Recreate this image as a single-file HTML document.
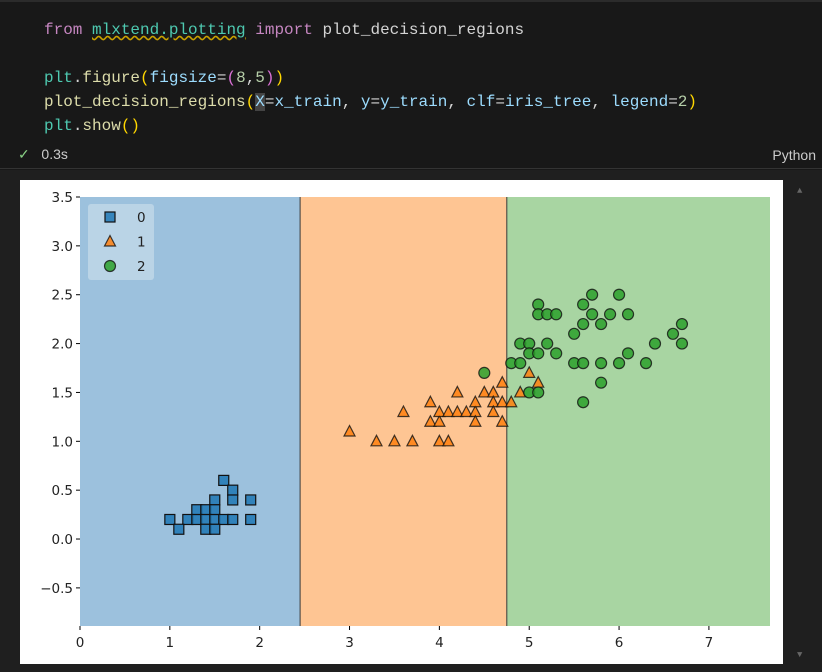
<!DOCTYPE html>
<html><head><meta charset="utf-8"><style>
body{margin:0;width:822px;height:672px;background:#1f1f1f;overflow:hidden;font-family:"Liberation Mono",monospace;}
.code{position:absolute;left:44px;font-size:16px;color:#d4d4d4;white-space:pre;line-height:24px}
.kw{color:#c586c0}.fn{color:#dcdcaa}.v{color:#9cdcfe}.n{color:#b5cea8}.p1{color:#ffd700}.p2{color:#da70d6}.t{color:#4ec9b0}
</style></head><body>
<div style="position:absolute;left:0;top:0;width:822px;height:168px;background:#181818;border-top:2px solid #2b2b2b">
<div class="code" style="top:16px"><span class="kw">from</span> <span class="t" style="text-decoration:underline wavy #c8a000">mlxtend.plotting</span> <span class="kw">import</span> plot_decision_regions</div>
<div class="code" style="top:64px"><span class="t">plt</span>.<span class="fn">figure</span><span class="p1">(</span><span class="v">figsize</span>=<span class="p2">(</span><span class="n">8</span>,<span class="n">5</span><span class="p2">)</span><span class="p1">)</span></div>
<div class="code" style="top:88px"><span class="fn">plot_decision_regions</span><span class="p1">(</span><span class="v" style="background:#444">X</span>=<span class="v">x_train</span>, <span class="v">y</span>=<span class="v">y_train</span>, <span class="v">clf</span>=<span class="v">iris_tree</span>, <span class="v">legend</span>=<span class="n">2</span><span class="p1">)</span></div>
<div class="code" style="top:112px"><span class="t">plt</span>.<span class="fn">show</span><span class="p1">()</span></div>
<div style="position:absolute;left:18px;top:144px;font-family:'Liberation Sans',sans-serif;font-size:14px;color:#ccc"><span style="color:#89d185">✓</span>&nbsp;&nbsp;&nbsp;0.3s</div>
<div style="position:absolute;right:6px;top:145px;font-family:'Liberation Sans',sans-serif;font-size:14px;color:#ccc">Python</div>
</div>
<div style="position:absolute;left:0;top:168px;width:822px;height:1px;background:#333"></div>
<div style="position:absolute;left:797px;top:186px;color:#666;font-size:9px">▲</div>
<div style="position:absolute;left:797px;top:650px;color:#666;font-size:9px">▼</div>
<svg id="chart" style="position:absolute;left:20px;top:180px" width="763" height="484" font-family="'DejaVu Sans',sans-serif" font-size="13.5"></svg>
<script>
const xTicks=[0,1,2,3,4,5,6,7];
const yTicks=[-0.5,0.0,0.5,1.0,1.5,2.0,2.5,3.0,3.5];
const yTickLabels=["−0.5","0.0","0.5","1.0","1.5","2.0","2.5","3.0","3.5"];
const boundaries=[2.45,4.75];
const class0X=[1.6,1.7,1.7,1.9,1.5,1.3,1.4,1.5,1.0,1.2,1.3,1.4,1.5,1.6,1.7,1.9,1.1,1.4,1.5];
const class0Y=[0.6,0.5,0.4,0.4,0.4,0.3,0.3,0.3,0.2,0.2,0.2,0.2,0.2,0.2,0.2,0.2,0.1,0.1,0.1];
const class1X=[3.0,3.3,3.5,3.7,4.0,4.1,3.6,3.9,4.0,4.0,4.1,4.2,4.3,4.4,4.4,3.9,4.2,4.4,4.5,4.6,4.7,4.6,4.7,4.8,4.6,4.7,5.0,4.9,5.1];
const class1Y=[1.1,1.0,1.0,1.0,1.0,1.0,1.3,1.2,1.2,1.3,1.3,1.3,1.3,1.3,1.2,1.4,1.5,1.4,1.5,1.5,1.6,1.4,1.4,1.4,1.3,1.2,1.7,1.5,1.6];
const class2X=[5.7,6.0,5.1,5.6,5.1,5.2,5.3,5.7,5.9,6.1,5.6,5.8,6.7,5.5,6.6,4.9,5.0,5.2,6.4,6.7,5.0,5.1,5.3,6.1,4.8,4.9,5.5,5.6,5.8,6.0,6.3,5.8,5.0,5.1,5.6,4.5];
const class2Y=[2.5,2.5,2.4,2.4,2.3,2.3,2.3,2.3,2.3,2.3,2.2,2.2,2.2,2.1,2.1,2.0,2.0,2.0,2.0,2.0,1.9,1.9,1.9,1.9,1.8,1.8,1.8,1.8,1.8,1.8,1.8,1.6,1.5,1.5,1.4,1.7];
const legendLabels=["0","1","2"];

const NS="http://www.w3.org/2000/svg";
const svg=document.getElementById('chart');
const L=60,R=750,T=17,B=446,xMin=0,xMax=7.68,yMin=-0.89,yMax=3.5;
const sx=v=>L+(v-xMin)/(xMax-xMin)*(R-L);
const sy=v=>B-(v-yMin)/(yMax-yMin)*(B-T);
function mk(tag,attrs,parent){const e=document.createElementNS(NS,tag);for(const k in attrs)e.setAttribute(k,attrs[k]);(parent||svg).appendChild(e);return e;}
mk('rect',{x:0,y:0,width:763,height:484,fill:'#fff'});
const regionColors=['#9cc1dd','#fec593','#a8d5a2'];
const edges=[xMin,...boundaries,xMax];
for(let i=0;i<3;i++){
 const r=mk('rect',{x:sx(edges[i]),y:T,width:sx(edges[i+1])-sx(edges[i]),height:B-T,fill:regionColors[i]});
 
 
}
boundaries.forEach((b,i)=>{
 const l=mk('line',{x1:sx(b),x2:sx(b),y1:T,y2:B,stroke:'#333',"stroke-width":1.2,opacity:0.8});
 
 
});
function square(x,y,fill,name){const e=mk('rect',{x:x-5,y:y-5,width:10,height:10,fill:fill,stroke:'#111',"stroke-width":1.2,"fill-opacity":0.85});}
function tri(x,y,fill,name){const e=mk('polygon',{points:`${x},${y-6} ${x+5.5},${y+4.5} ${x-5.5},${y+4.5}`,fill:fill,stroke:'#111',"stroke-width":1.2,"fill-opacity":0.85,"stroke-opacity":0.8});}
function circ(x,y,fill,name){const e=mk('circle',{cx:x,cy:y,r:5.5,fill:fill,stroke:'#111',"stroke-width":1.2,"fill-opacity":0.85,"stroke-opacity":0.8});}
class0X.forEach((v,i)=>square(sx(v),sy(class0Y[i]),'#1f77b4','class0-point'));
class1X.forEach((v,i)=>tri(sx(v),sy(class1Y[i]),'#ff7f0e','class1-point'));
class2X.forEach((v,i)=>circ(sx(v),sy(class2Y[i]),'#2ca02c','class2-point'));
xTicks.forEach(t=>{
 mk('line',{x1:sx(t),x2:sx(t),y1:B,y2:B+4,stroke:'#000'});
 const tx=mk('text',{x:sx(t),y:B+21,"text-anchor":"middle",fill:'#222'});tx.textContent=t;
 
 
});
yTicks.forEach((t,i)=>{
 mk('line',{x1:L-4,x2:L,y1:sy(t),y2:sy(t),stroke:'#000'});
 const tx=mk('text',{x:L-7,y:sy(t)+5,"text-anchor":"end",fill:'#222'});tx.textContent=yTickLabels[i];
 
 
});
const lg=mk('g',{});


mk('rect',{x:68,y:24,width:66,height:76,rx:3,fill:'#c8dbe9',opacity:0.7},lg);
const markers=[square,tri,circ],cols=['#1f77b4','#ff7f0e','#2ca02c'];
legendLabels.forEach((lab,i)=>{
 const y=37+i*24.5;
 markers[i](90,y,cols[i],'legend-marker-'+i);
 const t=mk('text',{x:117,y:y+5,fill:'#222'},lg);t.textContent=lab;
 
 
});
</script>
</body></html>
